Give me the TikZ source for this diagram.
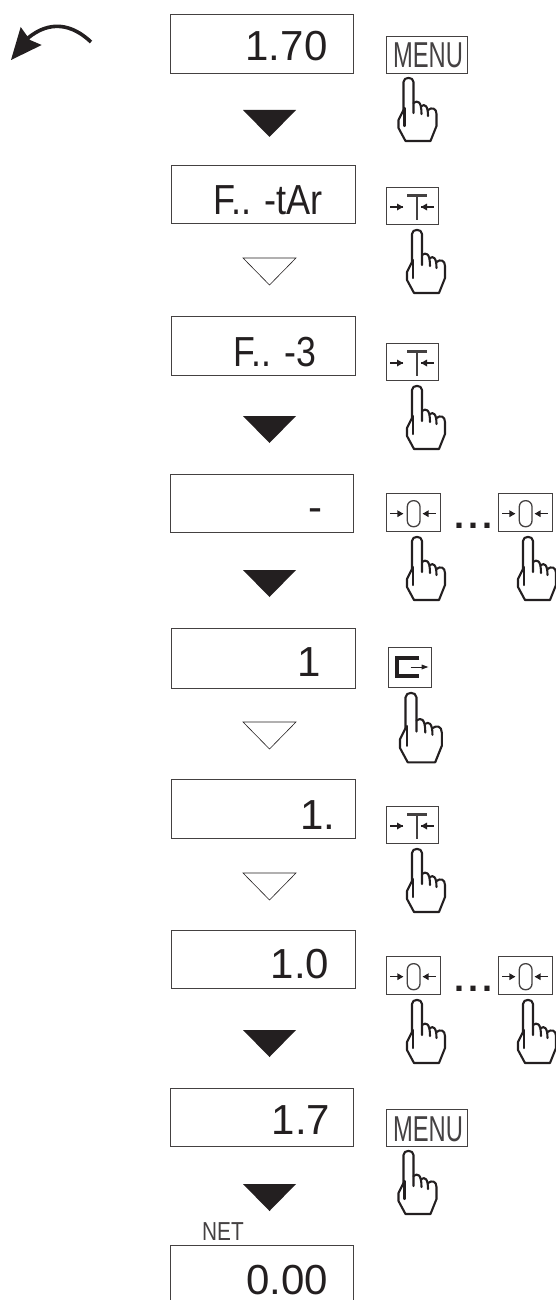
\documentclass[tikz,border=0pt]{standalone}
\usepackage{fontspec}
\setmainfont{Liberation Sans}
\definecolor{ink}{RGB}{35,31,32}
\newcommand{\handat}[4]{% x,y,xscale,yscale
\begin{scope}[shift={(#1,#2)},xscale=#3,yscale=#4,line width=2.1pt,draw=ink,line join=round,line cap=round]
\draw (-5,32) -- (-5,4) .. controls (-5,-1.5) and (5,-1.5) .. (5,4) -- (5,35);
\draw (5,25) .. controls (9,22) and (13,23) .. (13,36);
\draw (13,28) .. controls (16,26) and (19.5,27) .. (19.5,38);
\draw (19.5,32) .. controls (23,29) and (28,30) .. (28,36) -- (28,48) -- (22,63) -- (-3,63) -- (-10,50) -- (-10,42) -- (-5,32);
\draw (-4,30) -- (-4,48);
\end{scope}}
\newcommand{\sidearrow}[3]{% tip x, y, dir
\draw[line width=1.4pt,draw=ink] (#1,#2) -- ++(#3*13,0);
\fill[ink] (#1,#2) -- ++(#3*6,-3.5) -- ++(0,7) -- cycle;}
\tikzset{
 disp/.style={draw=ink!85,line width=0.9pt,fill=none},
 btn/.style={draw=ink!85,line width=0.9pt,fill=none},
 val/.style={font=\fontsize{42}{42}\selectfont,text=ink,inner sep=0pt,anchor=base},
 solidtri/.style={fill=ink,draw=none},
 opentri/.style={draw=ink,line width=0.6pt,fill=none},
 menutxt/.style={font=\fontsize{36}{36}\selectfont,text=ink!85,inner sep=0pt,anchor=base,xscale=0.66},
 dots/.style={font=\bfseries\fontsize{36}{36}\selectfont,text=ink,inner sep=0pt,anchor=base},
}
\newcommand{\solidarrow}[1]{\fill[solidtri] (243,#1) -- (296,#1) -- (269.5,#1+27) -- cycle;}
\newcommand{\openarrow}[1]{\draw[opentri] (243,#1) -- (296,#1) -- (269.5,#1+27) -- cycle;}
\newcommand{\menubtn}[2]{\draw[btn] (386,#1) rectangle (467,#1+37);\node[menutxt] (#2) at (428,#1+32) {MENU};}
\newcommand{\tbtn}[1]{\draw[btn] (386,#1) rectangle (438,#1+37);
 \draw[line width=2.4pt,draw=ink!85] (407,#1+8.5) -- (427,#1+8.5) (417,#1+8.5) -- (417,#1+33);
 \sidearrow{403}{#1+20}{-1}\sidearrow{421}{#1+20}{1}}
\newcommand{\zbtn}[2]{\draw[btn] (#1,#2) rectangle (#1+54,#2+38);
 \draw[line width=1.3pt,draw=ink!85,rounded corners=6pt] (#1+21.3,#2+7.7) rectangle (#1+34,#2+33.7);
 \sidearrow{#1+17.3}{#2+20.7}{-1}\sidearrow{#1+36.7}{#2+20.7}{1}}
\begin{document}
\begin{tikzpicture}[x=1pt,y=-1pt]
\useasboundingbox (0,0) rectangle (555,1300);
% curved arrow
\draw[line width=3.6pt,draw=ink] (91,42) .. controls (72,24) and (50,20) .. (28,38);
\fill[ink] (20.7,27) -- (11,60) -- (41.7,45) -- (30,40) -- cycle;
% displays
\draw[disp] (170,14) rectangle (353,73);
\draw[disp] (171,165) rectangle (355,223);
\draw[disp] (171,316) rectangle (355,375);
\draw[disp] (170,474) rectangle (353,532);
\draw[disp] (171,628) rectangle (355,688);
\draw[disp] (171,779) rectangle (355,838);
\draw[disp] (171,930) rectangle (355,988);
\draw[disp] (170,1088) rectangle (353,1146);
\draw[disp] (170,1300) -- (170,1245) -- (353,1245) -- (353,1300);
% values
\node[val] (v1) at (286.5,61) {1.70};
\node[val,xscale=0.86] (v2) at (268,214) {F.. -tAr};
\node[val,xscale=0.85] (v3) at (275,366) {F.. -3};
\node[val] (v4) at (315,521) {-};
\node[val] (v5) at (309,676) {1};
\node[val] (v6) at (318,829) {1.};
\node[val] (v7) at (300,978.5) {1.0};
\node[val] (v8) at (301,1134) {1.7};
\node[val] (v9) at (287,1294) {0.00};
\node[font=\fontsize{26}{26}\selectfont,text=ink!85,inner sep=0pt,anchor=base,xscale=0.8] (net) at (223,1240) {NET};
% triangles
\solidarrow{110}
\openarrow{258}
\solidarrow{416}
\solidarrow{570}
\openarrow{722}
\openarrow{873}
\solidarrow{1030}
\solidarrow{1184}
% buttons and hands
\menubtn{36}{m1}
\handat{408.5}{78}{1}{1}
\tbtn{187}
\handat{417}{230}{1}{1}
\tbtn{343}
\handat{417}{386}{1}{1}
\zbtn{386}{493}
\handat{417}{537}{1}{1}
\node[dots] (d1) at (473,528) {.\kern4pt.\kern4pt.};
\zbtn{498}{493}
\handat{528}{537}{1}{1}
\draw[btn] (388,647) rectangle (431,687);
\draw[line width=3.6pt,draw=ink] (419.3,658) -- (397,658) -- (397,676) -- (419.3,676);
\draw[line width=0.9pt,draw=ink] (410.7,667) -- (424,667);
\fill[ink] (428.3,667) -- (421.6,664.5) -- (421.6,669.5) -- cycle;
\handat{411}{693}{1.1}{1.1}
\tbtn{806}
\handat{417}{849}{1}{1}
\zbtn{386}{956}
\handat{417}{1000}{1}{1}
\node[dots] (d2) at (473,991) {.\kern4pt.\kern4pt.};
\zbtn{498}{956}
\handat{528}{1000}{1}{1}
\menubtn{1109}{m2}
\handat{408.5}{1151}{1}{1}
\end{tikzpicture}
\end{document}
